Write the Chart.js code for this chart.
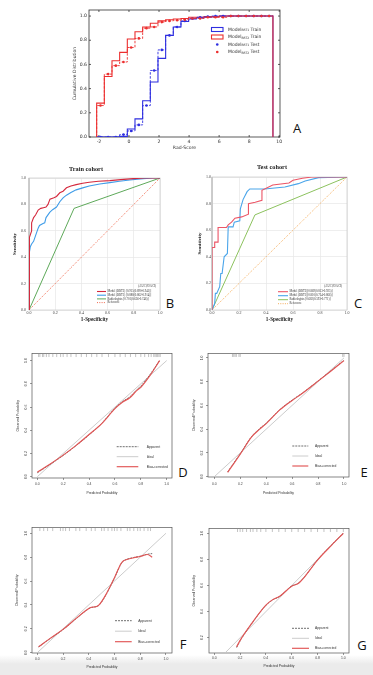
<!DOCTYPE html>
<html><head><meta charset="utf-8">
<script src="https://cdn.jsdelivr.net/npm/chart.js@4.4.0/dist/chart.umd.min.js"></script>
<style>
html,body{margin:0;padding:0;background:#fff;}
body{width:373px;height:675px;overflow:hidden;position:relative;}
canvas{position:absolute;}
.tag{position:absolute;font-family:'Open Sans','Liberation Sans',sans-serif;font-size:13px;color:#111;line-height:1;transform:translate(-50%,-50%);}
.shade{position:absolute;left:0;top:655px;width:373px;height:20px;background:linear-gradient(#fff 0,#ebebeb 9px,#ebebeb 20px);}
</style></head><body>
<div class="shade"></div>
<div class="tag" style="left:297px;top:128px">A</div>
<div class="tag" style="left:170px;top:303px">B</div>
<div class="tag" style="left:358px;top:303px">C</div>
<div class="tag" style="left:183px;top:472px">D</div>
<div class="tag" style="left:364px;top:472px">E</div>
<div class="tag" style="left:183px;top:644px">F</div>
<div class="tag" style="left:362px;top:645px">G</div>
<script>
// ---------------- Panel A: cumulative distribution of Rad-Score ----------------
const radEdges = [-2.15,-1.64,-1.13,-0.62,-0.11,0.40,0.91,1.42,1.93,2.44,2.95,3.46,3.97,4.48,4.99,5.50,6.01,6.52,7.03,7.54,8.05,8.56,9.07,9.58];
const trainBRT1 = [0,0,0,0.005,0.066,0.15,0.30,0.455,0.65,0.84,0.91,0.955,0.975,0.985,0.99,0.995,1,1,1,1,1,1,1];
const trainBRT2 = [0.28,0.50,0.63,0.70,0.81,0.87,0.91,0.94,0.96,0.97,0.975,0.98,0.99,0.99,0.995,0.995,1,1,1,1,1,1,1];
const testBRT1  = [0,0,0,0.02,0.05,0.10,0.26,0.55,0.72,0.84,0.91,0.96,0.98,0.99,0.995,1,1,1,1,1,1,1,1];
const testBRT2  = [0.26,0.52,0.59,0.62,0.74,0.815,0.90,0.91,0.95,0.96,0.965,0.97,0.98,0.98,0.99,0.99,0.99,1,1,1,1,1,1];
const radTicks  = [-2,0,2,4,6,8,10];
const probTicks = [0,0.2,0.4,0.6,0.8,1.0];
const probTicksG = [0.2,0.4,0.6,0.8,1.0];

// ---------------- Panel B: ROC, train cohort ----------------
const trainFprBRT2 = [0,0,0.005,0.005,0.02,0.02,0.035,0.05,0.07,0.09,0.11,0.13,0.145,0.16,0.19,0.21,0.235,0.26,0.286,0.32,0.36,0.41,0.46,0.53,0.617,0.70,0.796,0.88,1];
const trainTprBRT2 = [0,0.34,0.45,0.55,0.60,0.66,0.70,0.72,0.757,0.77,0.775,0.78,0.80,0.84,0.85,0.86,0.888,0.90,0.926,0.94,0.95,0.96,0.968,0.975,0.98,0.988,0.995,1,1];
const trainFprBRT1 = [0,0,0.01,0.02,0.035,0.056,0.07,0.08,0.107,0.12,0.13,0.158,0.18,0.21,0.235,0.26,0.286,0.32,0.36,0.41,0.46,0.54,0.617,0.69,0.77,0.87,0.95,1];
const trainTprBRT1 = [0,0.42,0.48,0.50,0.52,0.58,0.62,0.64,0.655,0.66,0.70,0.74,0.76,0.78,0.82,0.85,0.87,0.89,0.91,0.925,0.94,0.955,0.965,0.975,0.985,0.995,1,1];
const trainFprRad = [0,0.344,1];
const trainTprRad = [0,0.77,1];
const trainLabels = ['Model (BRT2) [0.915(0.890-0.941)]','Model (BRT1) [0.888(0.862-0.914)]','Radiologists [0.701(0.656-0.746)]','Reference'];

// ---------------- Panel C: ROC, test cohort ----------------
const testFprBRT2 = [0,0,0.02,0.02,0.045,0.045,0.107,0.12,0.145,0.17,0.22,0.27,0.27,0.32,0.37,0.37,0.45,0.57,0.60,0.67,0.74,1];
const testTprBRT2 = [0,0.47,0.47,0.51,0.51,0.62,0.62,0.64,0.66,0.69,0.70,0.72,0.80,0.81,0.825,0.90,0.94,0.955,0.975,0.99,1,1];
const testFprBRT1 = [0,0.02,0.025,0.035,0.057,0.065,0.075,0.09,0.114,0.12,0.135,0.156,0.165,0.206,0.21,0.23,0.26,0.28,0.39,0.54,0.64,0.69,0.79,1];
const testTprBRT1 = [0,0.05,0.125,0.125,0.175,0.275,0.275,0.40,0.425,0.625,0.625,0.625,0.66,0.67,0.76,0.83,0.89,0.91,0.91,0.925,0.95,0.97,0.995,1];
const testFprRad = [0,0.318,1];
const testTprRad = [0,0.715,1];
const testLabels = ['Model (BRT2)[0.869(0.813-0.925)]','Model (BRT1)[0.810(0.754-0.866)]','Radiologists [0.682(0.593-0.771)]','Reference'];
const diagLine = [0,1];

// ---------------- Panels D-G: calibration curves ----------------
const calDx    = [0.0,0.1,0.2,0.3,0.4,0.5,0.6,0.66,0.715,0.77,0.8,0.87,0.945];
const calDbias = [0.038,0.11,0.186,0.27,0.363,0.46,0.586,0.643,0.68,0.743,0.77,0.87,1.0];
const calDapp  = [0.034,0.107,0.183,0.268,0.36,0.462,0.59,0.648,0.688,0.75,0.78,0.878,1.0];
const rugD = [0.01,0.02,0.04,0.05,0.07,0.09,0.12,0.15,0.18,0.2,0.23,0.26,0.3,0.34,0.38,0.42,0.46,0.5,0.55,0.6,0.64,0.68,0.72,0.76,0.8,0.83,0.86,0.88,0.9,0.91,0.92,0.93,0.94,0.95];

const calEx    = [0.103,0.15,0.2,0.288,0.35,0.4,0.507,0.6,0.674,0.8,0.9,1.0];
const calEbias = [0.037,0.11,0.19,0.335,0.40,0.447,0.564,0.642,0.698,0.804,0.89,0.977];
const calEapp  = [0.04,0.115,0.193,0.338,0.405,0.45,0.566,0.645,0.70,0.806,0.892,0.98];
const rugE = [0.14,0.15,0.16,0.17,0.19,0.2,0.99,1.0];

const calFx    = [0.01,0.1,0.2,0.3,0.4,0.42,0.44,0.46,0.48,0.53,0.6,0.65,0.67,0.69,0.75,0.8,0.855,0.893];
const calFbias = [0.05,0.12,0.195,0.285,0.37,0.38,0.383,0.387,0.40,0.48,0.628,0.745,0.77,0.778,0.795,0.806,0.822,0.80];
const calFapp  = [0.048,0.118,0.193,0.283,0.368,0.378,0.382,0.386,0.398,0.478,0.625,0.742,0.768,0.78,0.797,0.808,0.824,0.83];
const rugF = [0.02,0.05,0.08,0.12,0.18,0.2,0.22,0.25,0.3,0.33,0.38,0.42,0.45,0.5,0.52,0.55,0.58,0.6,0.62,0.65,0.7,0.72,0.75,0.78,0.8,0.83,0.86,0.88];

const calGx    = [0.173,0.2,0.29,0.4,0.45,0.51,0.6,0.65,0.7,0.8,0.91,1.0];
const calGbias = [0.13,0.18,0.31,0.45,0.49,0.52,0.595,0.615,0.667,0.795,0.91,1.0];
const calGapp  = [0.125,0.176,0.308,0.448,0.488,0.518,0.597,0.617,0.668,0.796,0.912,1.0];
const rugG = [0.18,0.2,0.22,0.25,0.28,0.3,0.33,0.36,0.4,0.45,0.5,0.55,0.6,0.65,0.7,0.75,0.8,0.85,0.9,0.95,1.0];
const calLabels = ['Apparent','Ideal','Bias-corrected'];

// ---------------- helpers ----------------
const zip = (xs, ys) => xs.map((x, i) => ({x, y: ys[i]}));
function stairs(edges, vals, drop) {
  const p = [{x: edges[0], y: 0}];
  vals.forEach((v, i) => { p.push({x: edges[i], y: v}); p.push({x: edges[i + 1], y: v}); });
  if (drop) p.push({x: edges[edges.length - 1], y: 0});
  return p;
}
const centers = (edges, vals) => vals.map((v, i) => ({x: (edges[i] + edges[i + 1]) / 2, y: v}));

const framePlugin = {
  id: 'frame',
  beforeDatasetsDraw(chart, args, o) {
    if (!o || !o.color) return;
    const {ctx, chartArea: a} = chart;
    ctx.save();
    ctx.strokeStyle = o.color; ctx.lineWidth = o.width || 1;
    ctx.strokeRect(a.left, a.top, a.right - a.left, a.bottom - a.top);
    if (o.leftWidth) {
      ctx.lineWidth = o.leftWidth; ctx.strokeStyle = o.leftColor || o.color;
      ctx.beginPath(); ctx.moveTo(a.left, a.top); ctx.lineTo(a.left, a.bottom); ctx.stroke();
    }
    if (o.inTicks) {
      const L = o.inTicks; ctx.lineWidth = o.width || 1; ctx.strokeStyle = o.color;
      ctx.beginPath();
      chart.scales.x.ticks.forEach(t => { const px = chart.scales.x.getPixelForValue(t.value);
        ctx.moveTo(px, a.bottom); ctx.lineTo(px, a.bottom - L); ctx.moveTo(px, a.top); ctx.lineTo(px, a.top + L); });
      chart.scales.y.ticks.forEach(t => { const py = chart.scales.y.getPixelForValue(t.value);
        ctx.moveTo(a.left, py); ctx.lineTo(a.left + L, py); ctx.moveTo(a.right, py); ctx.lineTo(a.right - L, py); });
      ctx.stroke();
    }
    ctx.restore();
  }
};

const legendPlugin = {
  id: 'panelLegend',
  afterDatasetsDraw(chart, args, o) {
    if (!o || !o.origin) return;
    const ctx = chart.ctx, ox = o.origin.x, oy = o.origin.y;
    const items = chart.data.datasets.filter(d => d.legendRank != null).sort((a, b) => a.legendRank - b.legendRank);
    ctx.save();
    ctx.textBaseline = 'middle';
    if (o.header) {
      ctx.font = o.font; ctx.fillStyle = o.color; ctx.textAlign = 'right';
      ctx.fillText(o.header.text, o.header.x - ox, o.header.y - oy);
    }
    items.forEach((d, i) => {
      const x = o.x - ox, y = o.y + i * o.rowH - oy;
      const kind = d.legendKind || 'line';
      ctx.setLineDash(kind === 'line' ? (d.borderDash || []) : []);
      ctx.strokeStyle = d.borderColor; ctx.lineWidth = d.borderWidth || 1;
      if (kind === 'line') {
        ctx.beginPath(); ctx.moveTo(x, y); ctx.lineTo(x + o.sampleW, y); ctx.stroke();
      } else if (kind === 'box') {
        ctx.strokeRect(x, y - o.boxH / 2, o.sampleW, o.boxH);
      } else if (kind === 'dot') {
        ctx.fillStyle = d.backgroundColor;
        ctx.beginPath(); ctx.arc(x + o.sampleW / 2, y, d.pointRadius, 0, Math.PI * 2); ctx.fill();
      }
      ctx.setLineDash([]);
      ctx.fillStyle = o.color; ctx.textAlign = 'left';
      let tx = x + o.sampleW + o.gap;
      if (d.labelParts) {
        const [a, sub, b] = d.labelParts;
        ctx.font = o.font; ctx.fillText(a, tx, y); tx += ctx.measureText(a).width;
        ctx.font = o.subFont; ctx.fillText(sub, tx, y + 1); tx += ctx.measureText(sub).width;
        ctx.font = o.font; ctx.fillText(b, tx, y);
      } else {
        ctx.font = o.font; ctx.fillText(d.label, tx, y);
      }
    });
    ctx.restore();
  }
};
Chart.register(framePlugin, legendPlugin);

function makeCanvas(plot, m) {
  const left = plot.l - m.l, top = plot.t - m.t;
  const w = plot.r - plot.l + m.l + m.r, h = plot.b - plot.t + m.t + m.b;
  const cv = document.createElement('canvas');
  cv.width = w; cv.height = h;
  Object.assign(cv.style, {left: left + 'px', top: top + 'px', width: w + 'px', height: h + 'px'});
  document.body.appendChild(cv);
  return {cv, left, top};
}

function axis(o) {
  return {
    type: 'linear', position: o.pos, min: o.min, max: o.max,
    afterFit: s => { if (o.pos === 'left') s.width = o.size; else s.height = o.size; },
    afterBuildTicks: s => { s.ticks = o.ticks.map(v => ({value: v})); },
    ticks: {font: o.font, color: o.color, padding: o.pad, autoSkip: false,
      minRotation: o.rot || 0, maxRotation: o.rot || 0, crossAlign: o.cross || 'near',
      callback: v => Number(v).toFixed(o.dec == null ? 1 : o.dec)},
    grid: o.grid, border: o.border || {display: false},
    title: {display: true, text: o.title, font: o.tfont, color: o.tcolor || o.color, padding: o.tpad}
  };
}

const baseOpts = {responsive: false, animation: false, devicePixelRatio: 1, events: [],
  plugins: {legend: {display: false}, tooltip: {enabled: false}}};

// ---------------- Panel A ----------------
(function () {
  const plot = {l: 89, t: 10, r: 280, b: 137}, m = {l: 18, t: 6, r: 8, b: 16};
  const {cv, left, top} = makeCanvas(plot, m);
  const blue = '#2f2fe0', red = '#ec2f2f';
  const font = {family: 'DejaVu Sans', size: 4.6};
  const noGrid = {display: false, drawTicks: false};
  new Chart(cv, {
    type: 'line',
    data: {datasets: [
      {label: 'ModelBRT2 Test', labelParts: ['Model', 'BRT2', ' Test'], legendRank: 4, legendKind: 'dot', data: centers(radEdges, testBRT2), showLine: false, pointRadius: 1.3, backgroundColor: red, borderColor: red, borderWidth: 0},
      {label: 'ModelBRT1 Test', labelParts: ['Model', 'BRT1', ' Test'], legendRank: 3, legendKind: 'dot', data: centers(radEdges, testBRT1), showLine: false, pointRadius: 1.3, backgroundColor: blue, borderColor: blue, borderWidth: 0},
      {label: 'BRT2 test step', data: stairs(radEdges, testBRT2, false), borderColor: red, borderWidth: 0.9, borderDash: [2.5, 1.5], pointRadius: 0, fill: false, tension: 0},
      {label: 'BRT1 test step', data: stairs(radEdges, testBRT1, false), borderColor: blue, borderWidth: 0.9, borderDash: [2.5, 1.5], pointRadius: 0, fill: false, tension: 0},
      {label: 'ModelBRT2 Train', labelParts: ['Model', 'BRT2', ' Train'], legendRank: 2, legendKind: 'box', data: stairs(radEdges, trainBRT2, true), borderColor: red, borderWidth: 1.1, pointRadius: 0, fill: false, tension: 0},
      {label: 'ModelBRT1 Train', labelParts: ['Model', 'BRT1', ' Train'], legendRank: 1, legendKind: 'box', data: stairs(radEdges, trainBRT1, true), borderColor: blue, borderWidth: 1.1, pointRadius: 0, fill: false, tension: 0}
    ]},
    options: Object.assign({}, baseOpts, {
      layout: {padding: {left: 0, top: m.t, right: m.r, bottom: 0}},
      scales: {
        x: axis({pos: 'bottom', min: -2.66, max: 10.05, size: m.b, ticks: radTicks, dec: 0, font, color: '#333', pad: 2.2, grid: noGrid,
          title: 'Rad-Score', tfont: {family: 'DejaVu Sans', size: 4.6, lineHeight: 1}, tpad: {top: 0, bottom: 3.2}}),
        y: axis({pos: 'left', min: 0, max: 1.05, size: m.l, ticks: probTicks, font, color: '#333', pad: 2, grid: noGrid,
          title: 'Cumulative Distribution', tfont: {family: 'DejaVu Sans', size: 4.5, lineHeight: 1}, tpad: {top: 1.75, bottom: 0}})
      },
      plugins: Object.assign({}, baseOpts.plugins, {
        frame: {color: '#333', width: 0.8, inTicks: 2},
        panelLegend: {origin: {x: left, y: top}, x: 211.5, y: 29.5, rowH: 7.5, sampleW: 11.5, boxH: 4, gap: 5,
          font: '4.5px "DejaVu Sans"', subFont: '3px "DejaVu Sans"', color: '#333'}
      })
    })
  });
})();

// ---------------- Panels B & C (ROC) ----------------
function rocPanel(p) {
  const {cv, left, top} = makeCanvas(p.plot, p.m);
  const tickFont = {family: 'Liberation Serif', size: 4};
  const grid = {color: '#e6e6e6', lineWidth: 0.7, drawTicks: false};
  new Chart(cv, {
    type: 'line',
    data: {datasets: [
      {label: p.labels[0], legendRank: 1, data: zip(p.fpr2, p.tpr2), borderColor: p.colors[0], borderWidth: 1.1, pointRadius: 0, tension: 0},
      {label: p.labels[1], legendRank: 2, data: zip(p.fpr1, p.tpr1), borderColor: p.colors[1], borderWidth: 1.1, pointRadius: 0, tension: 0},
      {label: p.labels[2], legendRank: 3, data: zip(p.fprR, p.tprR), borderColor: p.colors[2], borderWidth: 1.0, pointRadius: 0, tension: 0},
      {label: p.labels[3], legendRank: 4, data: zip(diagLine, diagLine), borderColor: p.colors[3], borderWidth: 0.9, borderDash: [1, 1.3], pointRadius: 0, tension: 0}
    ]},
    options: Object.assign({}, baseOpts, {
      layout: {padding: {left: 0, top: 0, right: p.m.r, bottom: 0}},
      scales: {
        x: axis({pos: 'bottom', min: 0, max: 1, size: p.m.b, ticks: probTicks, font: tickFont, color: '#444', pad: 0.6, grid,
          title: '1-Specificity', tfont: {family: 'Liberation Serif', size: 5.2, weight: 'bold', lineHeight: 1}, tcolor: '#222', tpad: {top: 0, bottom: 2.4}}),
        y: axis({pos: 'left', min: 0, max: 1, size: p.m.l, ticks: probTicks, font: tickFont, color: '#444', pad: p.ypad, grid,
          title: 'Sensitivity', tfont: {family: 'Liberation Serif', size: 5, weight: 'bold', lineHeight: 1}, tcolor: '#222', tpad: {top: p.ytpad, bottom: 0}})
      },
      plugins: Object.assign({}, baseOpts.plugins, {
        title: {display: true, text: p.title, color: '#222', font: {family: 'Liberation Serif', size: 6.3, weight: 'bold', lineHeight: 1}, padding: p.tpad},
        frame: {color: '#cfcfcf', width: 0.8, leftWidth: 1.6, leftColor: '#c4c4c4'},
        panelLegend: {origin: {x: left, y: top}, x: p.leg.x, y: p.leg.y, rowH: p.leg.rowH, sampleW: p.leg.w, gap: 1.5,
          font: '3px "Liberation Serif"', color: '#333', header: {text: '(AUC;95%CI)', x: p.leg.hx, y: p.leg.hy}}
      })
    })
  });
}
rocPanel({plot: {l: 29, t: 178, r: 160, b: 310}, m: {l: 17, t: 16, r: 8, b: 15}, title: 'Train cohort', tpad: {top: 3.8, bottom: 5.9},
  fpr2: trainFprBRT2, tpr2: trainTprBRT2, fpr1: trainFprBRT1, tpr1: trainTprBRT1, fprR: trainFprRad, tprR: trainTprRad,
  labels: trainLabels, colors: ['#d4283c', '#3f9ce8', '#5ea95a', '#ee5a3c'], ypad: 3, ytpad: 0,
  leg: {x: 97, y: 291.5, rowH: 3.7, w: 9, hx: 156, hy: 286}});
rocPanel({plot: {l: 212, t: 177, r: 347, b: 310}, m: {l: 15, t: 16, r: 10, b: 15}, title: 'Test cohort', tpad: {top: 2.8, bottom: 6.9},
  fpr2: testFprBRT2, tpr2: testTprBRT2, fpr1: testFprBRT1, tpr1: testTprBRT1, fprR: testFprRad, tprR: testTprRad,
  labels: testLabels, colors: ['#ec5566', '#4aa5ea', '#8cc25e', '#f4a447'], ypad: 1, ytpad: 0.5,
  leg: {x: 278, y: 291.7, rowH: 4, w: 10, hx: 342, hy: 286}});

// ---------------- Panels D-G (calibration) ----------------
function calPanel(p) {
  const {cv, left, top} = makeCanvas(p.plot, p.m);
  const tickFont = {family: 'Liberation Sans', size: 3.4};
  const tFont = {family: 'Liberation Sans', size: 3.4, lineHeight: 1};
  const grid = {display: true, drawOnChartArea: false, drawTicks: true, tickLength: 2, color: '#555', lineWidth: 0.6};
  new Chart(cv, {
    type: 'line',
    data: {datasets: [
      {label: calLabels[2], legendRank: 3, data: zip(p.x, p.bias), borderColor: '#e25555', borderWidth: 1.15, pointRadius: 0, tension: 0.35, cubicInterpolationMode: 'monotone'},
      {label: calLabels[0], legendRank: 1, data: zip(p.x, p.app), borderColor: '#4a4a4a', borderWidth: 0.8, borderDash: [2, 1], pointRadius: 0, tension: 0.35, cubicInterpolationMode: 'monotone'},
      {label: calLabels[1], legendRank: 2, data: zip(diagLine, diagLine), borderColor: '#c6c6c6', borderWidth: 0.9, pointRadius: 0, tension: 0},
      {label: 'rug', data: p.rug.map(v => ({x: v, y: p.rugY})), showLine: false, pointStyle: 'line', rotation: 90, pointRadius: 1.7, borderColor: '#9a9a9a', borderWidth: 0.6}
    ]},
    options: Object.assign({}, baseOpts, {
      layout: {padding: {left: 0, top: p.m.t, right: p.m.r, bottom: 0}},
      scales: {
        x: axis({pos: 'bottom', min: p.xr[0], max: p.xr[1], size: p.m.b, ticks: probTicks, font: tickFont, color: '#444', pad: p.xpad, grid,
          title: 'Predicted Probability', tfont: tFont, tcolor: '#333', tpad: {top: 0, bottom: p.xtpad}}),
        y: axis({pos: 'left', min: p.yr[0], max: p.yr[1], size: p.m.l, ticks: p.yticks || probTicks, font: tickFont, color: '#444', pad: p.ypad, grid, rot: 90, cross: 'center',
          title: 'Observed Probability', tfont: tFont, tcolor: '#333', tpad: {top: p.ytpad, bottom: 0}})
      },
      plugins: Object.assign({}, baseOpts.plugins, {
        frame: {color: '#555', width: 0.7},
        panelLegend: {origin: {x: left, y: top}, x: p.leg.x, y: p.leg.y, rowH: p.leg.rowH, sampleW: p.leg.w, gap: p.leg.gap,
          font: '3.3px "Liberation Sans"', color: '#333'}
      })
    })
  });
}
calPanel({plot: {l: 32, t: 353, r: 172, b: 478}, m: {l: 18, t: 4, r: 8, b: 18}, xr: [-0.041, 1.041], yr: [-0.011, 1.06],
  x: calDx, bias: calDbias, app: calDapp, rug: rugD, rugY: 1.045, xpad: 2, xtpad: 1.6, ypad: 1.6, ytpad: 2.6,
  leg: {x: 116.7, y: 446.7, rowH: 10, w: 21.6, gap: 8.4}});
calPanel({plot: {l: 208, t: 353, r: 349, b: 477}, m: {l: 16, t: 4, r: 8, b: 18}, xr: [-0.0486, 1.0386], yr: [-0.0025, 1.036],
  x: calEx, bias: calEbias, app: calEapp, rug: rugE, rugY: 1.022, xpad: 3, xtpad: 0.6, ypad: 1.3, ytpad: 0.6,
  leg: {x: 292.3, y: 446, rowH: 10, w: 16, gap: 6.7}});
calPanel({plot: {l: 32, t: 527, r: 172, b: 653}, m: {l: 18, t: 4, r: 8, b: 17}, xr: [-0.041, 1.047], yr: [-0.0025, 1.0475],
  x: calFx, bias: calFbias, app: calFapp, rug: rugF, rugY: 1.033, xpad: 2.3, xtpad: 1.6, ypad: 1.6, ytpad: 1.6,
  leg: {x: 115, y: 620.7, rowH: 10.5, w: 16.7, gap: 6.6}});
calPanel({plot: {l: 209, t: 528, r: 349, b: 653}, m: {l: 17, t: 4, r: 8, b: 17}, xr: [-0.041, 1.044], yr: [0.083, 1.036], yticks: probTicksG,
  x: calGx, bias: calGbias, app: calGapp, rug: rugG, rugY: 1.023, xpad: 1.3, xtpad: 2.3, ypad: 2.3, ytpad: 0.6,
  leg: {x: 292, y: 628.3, rowH: 10, w: 17, gap: 6}});
</script>
</body></html>
